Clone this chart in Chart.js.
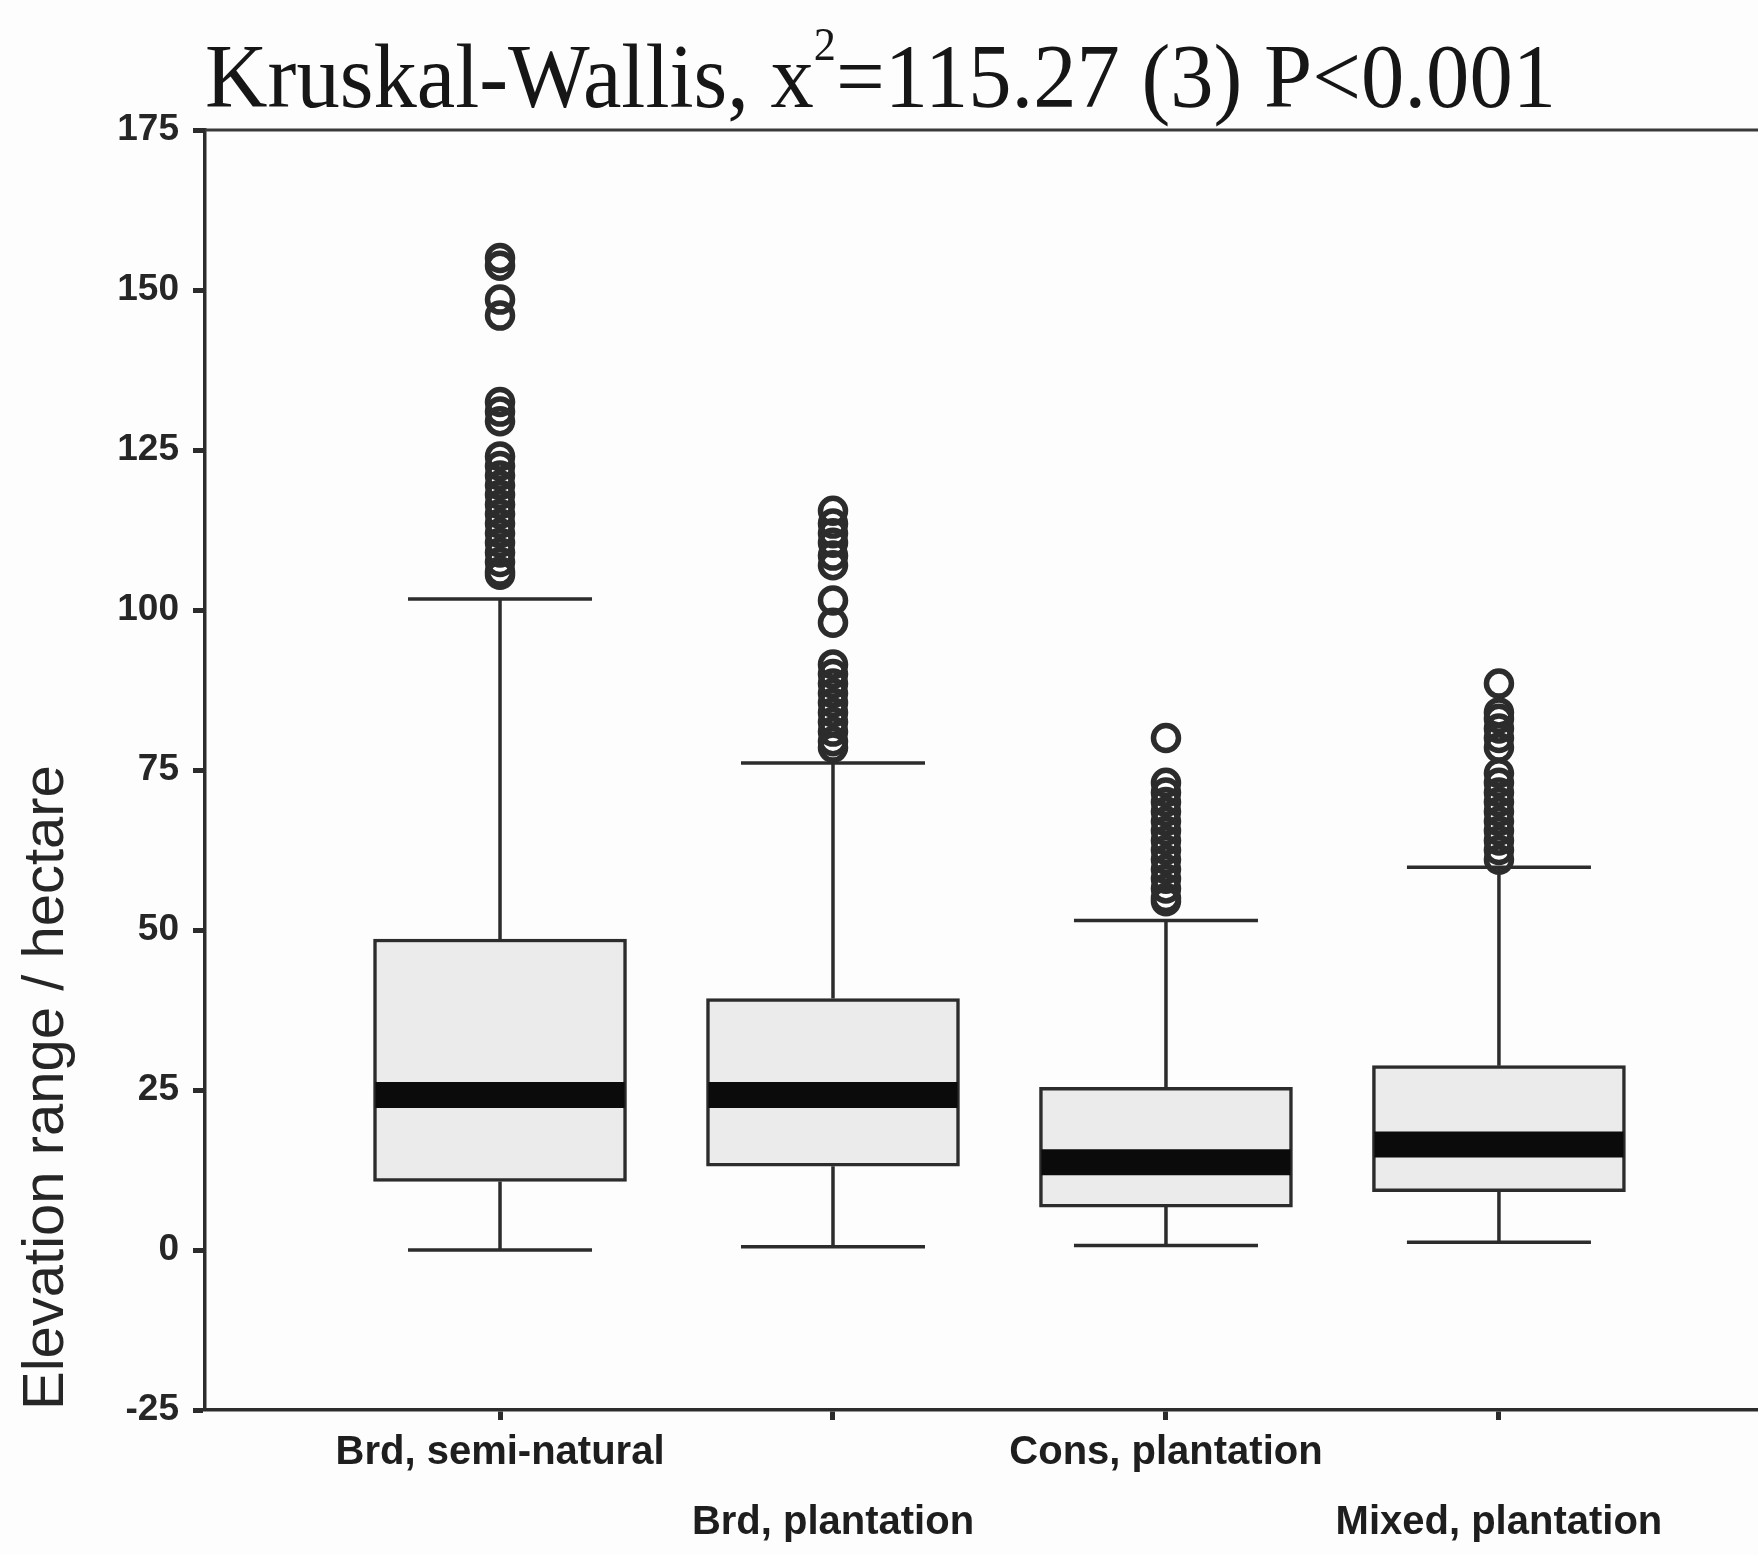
<!DOCTYPE html>
<html>
<head>
<meta charset="utf-8">
<title>Elevation range by woodland type</title>
<script src="https://cdn.jsdelivr.net/npm/chart.js@4.4.1/dist/chart.umd.min.js"></script>
<style>
  html, body { margin: 0; padding: 0; background: #fdfdfd; }
  #wrap { width: 1758px; height: 1555px; position: relative; }
</style>
</head>
<body>
<div id="wrap"><canvas id="c" width="1758" height="1555"></canvas></div>
<script>
// Woodland categories along the x axis
const categories = ['Brd, semi-natural', 'Brd, plantation', 'Cons, plantation', 'Mixed, plantation'];

// Five-number summaries (elevation range per hectare)
const lowerWhisker = [0, 0.5, 0.7, 1.2];
const q1 = [10.7, 13.1, 6.7, 9.1];
const median = [24.2, 24.2, 13.7, 16.5];
const q3 = [48.6, 39.3, 25.4, 28.8];
const upperWhisker = [101.7, 76.1, 51.5, 59.8];

// Outlying observations per category
const outliersSemiNatural = [155.0, 153.8, 148.5, 146.0, 132.5, 131.0, 129.5, 124.0, 122.5, 121.0, 119.5, 118.0, 116.5, 115.0, 113.5, 112.0, 110.5, 109.0, 107.5, 106.0, 105.5];
const outliersBrdPlantation = [115.5, 113.5, 112.0, 110.5, 108.5, 107.0, 101.5, 98.0, 91.5, 90.0, 88.5, 87.0, 85.5, 84.0, 82.5, 81.0, 79.5, 78.5];
const outliersConsPlantation = [80.0, 73.0, 71.5, 70.0, 68.5, 67.0, 65.5, 64.0, 62.5, 61.0, 59.5, 58.0, 56.5, 55.0, 54.5];
const outliersMixedPlantation = [88.5, 84.0, 83.0, 81.5, 80.0, 78.5, 74.5, 73.0, 71.5, 70.0, 68.5, 67.0, 65.5, 64.0, 62.5, 61.0];
const outliers = [outliersSemiNatural, outliersBrdPlantation, outliersConsPlantation, outliersMixedPlantation];

// Axis ticks
const yTickValues = [-25, 0, 25, 50, 75, 100, 125, 150, 175];
const yMin = -25, yMax = 175;

const titleMain = 'Kruskal-Wallis, x';
const titleSup = '2';
const titleRest = '=115.27 (3) P<0.001';

const positions = categories.map((_, i) => i + 1);
const boxData = positions.map((x, i) => ({ x: x, y: [q1[i], q3[i]] }));
const outlierData = [];
outliers.forEach((vals, i) => vals.forEach(v => outlierData.push({ x: positions[i], y: v })));

const INK = '#2c2c2c';

// Whiskers, caps and medians drawn through the chart's scales
const boxPlotPlugin = {
  id: 'boxPlotParts',
  beforeDatasetsDraw(chart) {
    const { ctx, scales: { x, y } } = chart;
    const capHalf = 92;
    ctx.save();
    ctx.strokeStyle = INK;
    ctx.lineWidth = 3.5;
    positions.forEach((p, i) => {
      const px = x.getPixelForValue(p);
      ctx.beginPath();
      ctx.moveTo(px, y.getPixelForValue(q3[i]));
      ctx.lineTo(px, y.getPixelForValue(upperWhisker[i]));
      ctx.moveTo(px, y.getPixelForValue(q1[i]));
      ctx.lineTo(px, y.getPixelForValue(lowerWhisker[i]));
      ctx.stroke();
      ctx.beginPath();
      ctx.moveTo(px - capHalf, y.getPixelForValue(upperWhisker[i]));
      ctx.lineTo(px + capHalf, y.getPixelForValue(upperWhisker[i]));
      ctx.moveTo(px - capHalf, y.getPixelForValue(lowerWhisker[i]));
      ctx.lineTo(px + capHalf, y.getPixelForValue(lowerWhisker[i]));
      ctx.stroke();
    });
    ctx.restore();
  },
  afterDatasetDraw(chart, args) {
    if (args.index !== 0) return;
    const { ctx, scales: { y } } = chart;
    ctx.save();
    ctx.strokeStyle = '#0b0b0b';
    ctx.lineWidth = 26;
    args.meta.data.forEach((bar, i) => {
      const half = bar.width / 2 - 2;
      const py = y.getPixelForValue(median[i]);
      ctx.beginPath();
      ctx.moveTo(bar.x - half, py);
      ctx.lineTo(bar.x + half, py);
      ctx.stroke();
    });
    ctx.restore();
  }
};

// Top frame line and the statistical test heading
const framePlugin = {
  id: 'frameAndHeading',
  afterDraw(chart) {
    const { ctx, chartArea } = chart;
    ctx.save();
    ctx.strokeStyle = '#3a3a3a';
    ctx.lineWidth = 3;
    ctx.beginPath();
    ctx.moveTo(chartArea.left, chartArea.top);
    ctx.lineTo(chartArea.right, chartArea.top);
    ctx.stroke();

    const big = '90px "Liberation Serif"';
    const small = '46px "Liberation Serif"';
    ctx.font = big;
    const w1 = ctx.measureText(titleMain).width;
    const w3 = ctx.measureText(titleRest).width;
    ctx.font = small;
    const w2 = ctx.measureText(titleSup).width;
    const total = w1 + w2 + w3;
    const targetWidth = 1351;
    const sx = targetWidth / total;
    ctx.translate(chartArea.left, 107);
    ctx.scale(sx, 1);
    ctx.fillStyle = '#161616';
    ctx.textBaseline = 'alphabetic';
    ctx.textAlign = 'left';
    ctx.font = big;
    ctx.fillText(titleMain, 0, 0);
    ctx.font = small;
    ctx.fillText(titleSup, w1, -47);
    ctx.font = big;
    ctx.fillText(titleRest, w1 + w2, 0);
    ctx.restore();
  }
};

new Chart(document.getElementById('c'), {
  type: 'bar',
  data: {
    datasets: [
      {
        type: 'bar',
        data: boxData,
        backgroundColor: '#ebebeb',
        borderColor: INK,
        borderWidth: 3.5,
        borderSkipped: false,
        barThickness: 253,
        grouped: false,
        order: 2
      },
      {
        type: 'scatter',
        data: outlierData,
        pointStyle: 'circle',
        pointRadius: 12.5,
        pointBorderWidth: 5.5,
        pointBorderColor: INK,
        pointBackgroundColor: 'rgba(255,255,255,0)',
        order: 1
      }
    ]
  },
  options: {
    responsive: false,
    animation: false,
    layout: { autoPadding: false, padding: { top: 130, left: 0, right: 0, bottom: 0 } },
    plugins: {
      legend: { display: false },
      tooltip: { enabled: false },
      title: { display: false }
    },
    scales: {
      x: {
        type: 'linear',
        min: 0.114,
        max: 4.778,
        offset: false,
        afterBuildTicks: s => { s.ticks = positions.map(v => ({ value: v })); },
        afterFit: s => { s.height = 145; },
        grid: { offset: false, drawOnChartArea: false, drawTicks: true, tickLength: 10, tickWidth: 5, tickColor: INK },
        border: { display: true, color: INK, width: 3.5 },
        ticks: {
          autoSkip: false,
          maxRotation: 0,
          minRotation: 0,
          padding: -2,
          color: '#1e1e1e',
          font: { family: 'Liberation Sans', size: 40, weight: 'bold', lineHeight: '70px' },
          callback: v => {
            const i = Math.round(v) - 1;
            return i % 2 === 0 ? [categories[i]] : ['', categories[i]];
          }
        }
      },
      y: {
        min: yMin,
        max: yMax,
        afterBuildTicks: s => { s.ticks = yTickValues.map(v => ({ value: v })); },
        afterFit: s => { s.width = 205; },
        grid: { drawOnChartArea: false, drawTicks: true, tickLength: 12, tickWidth: 5, tickColor: INK },
        border: { display: true, color: INK, width: 3.5 },
        ticks: { padding: 14, color: '#262626', font: { family: 'Liberation Sans', size: 37, weight: 'bold' } },
        title: {
          display: true,
          text: 'Elevation range / hectare',
          align: 'start',
          color: '#262626',
          font: { family: 'Liberation Sans', size: 58 },
          padding: { top: 12, bottom: 0 }
        }
      }
    }
  },
  plugins: [boxPlotPlugin, framePlugin]
});
</script>
</body>
</html>
